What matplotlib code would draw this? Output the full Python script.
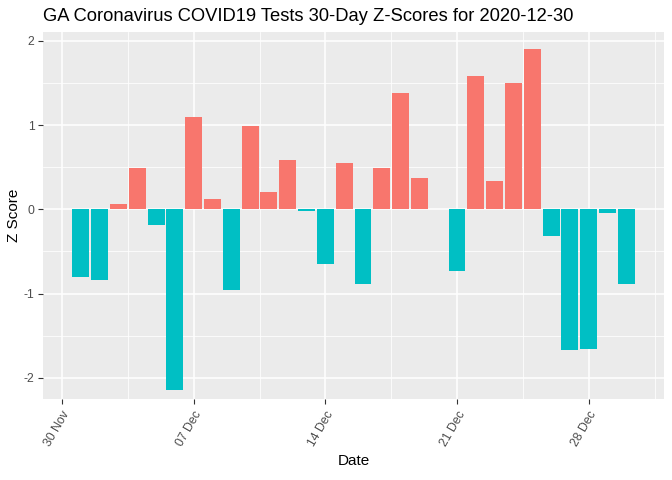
import datetime as dt
import matplotlib
matplotlib.use('Agg')
import matplotlib.pyplot as plt
import matplotlib.dates as mdates
import numpy as np

plt.rcParams['font.family'] = ['Liberation Sans', 'DejaVu Sans']

# Z-scores for Dec 1 .. Dec 30 (Dec 20 missing)
days = [1, 2, 3, 4, 5, 6, 7, 8, 9, 10, 11, 12, 13, 14, 15, 16, 17, 18, 19,
        21, 22, 23, 24, 25, 26, 27, 28, 29, 30]
zscores = [-0.80, -0.84, 0.06, 0.49, -0.18, -2.15, 1.10, 0.12, -0.96, 0.99,
           0.21, 0.59, -0.02, -0.65, 0.55, -0.89, 0.49, 1.38, 0.37,
           -0.73, 1.58, 0.34, 1.50, 1.90, -0.32, -1.67, -1.66, -0.04, -0.89]
tick_dates = [dt.date(2020, 11, 30), dt.date(2020, 12, 7), dt.date(2020, 12, 14),
              dt.date(2020, 12, 21), dt.date(2020, 12, 28)]
tick_labels = ['30 Nov', '07 Dec', '14 Dec', '21 Dec', '28 Dec']

dates = [dt.date(2020, 12, d) for d in days]
xs = mdates.date2num(dates)
vals = np.array(zscores)
colors = np.where(vals > 0, '#F8766D', '#00BFC4')

fig = plt.figure(figsize=(6.72, 4.8), dpi=100)
ax = fig.add_axes([0.064, 0.169, 0.924, 0.765])
ax.set_facecolor('#EBEBEB')

x0 = mdates.date2num(dt.date(2020, 11, 30))
ax.set_xlim(x0 - 1.01, x0 + 32.0)
ax.set_ylim(-2.25, 2.11)

# grid
for x in np.arange(x0 - 3.5, x0 + 33, 3.5):
    major = abs(((x - x0) / 7) - round((x - x0) / 7)) < 1e-6
    ax.axvline(x, color='white', lw=1.1 if major else 0.55, zorder=0)
for y in np.arange(-2, 2.01, 0.5):
    ax.axhline(y, color='white', lw=1.1 if y == int(y) else 0.55, zorder=0)

ax.bar(xs, vals, width=0.9, color=colors, zorder=2)

ax.set_xticks(mdates.date2num(tick_dates))
ax.set_xticklabels(tick_labels, rotation=60, ha='right', rotation_mode='anchor')
ax.set_yticks([-2, -1, 0, 1, 2])
ax.set_yticklabels(['-2', '-1', '0', '1', '2'])
ax.tick_params(axis='both', colors='#333333', length=3.5, width=0.8,
               labelcolor='#4D4D4D', labelsize=8.8)
ax.tick_params(axis='y', pad=2.5)
for s in ax.spines.values():
    s.set_visible(False)

ax.set_xlabel('Date', fontsize=11, color='black', labelpad=4)
ax.set_ylabel('Z Score', fontsize=11, color='black')
ax.yaxis.set_label_coords(-0.036, 0.5)
fig.text(0.064, 0.965, 'GA Coronavirus COVID19 Tests 30-Day Z-Scores for 2020-12-30',
         fontsize=13.2, va='center', ha='left')

fig.savefig('out.png', dpi=100)
